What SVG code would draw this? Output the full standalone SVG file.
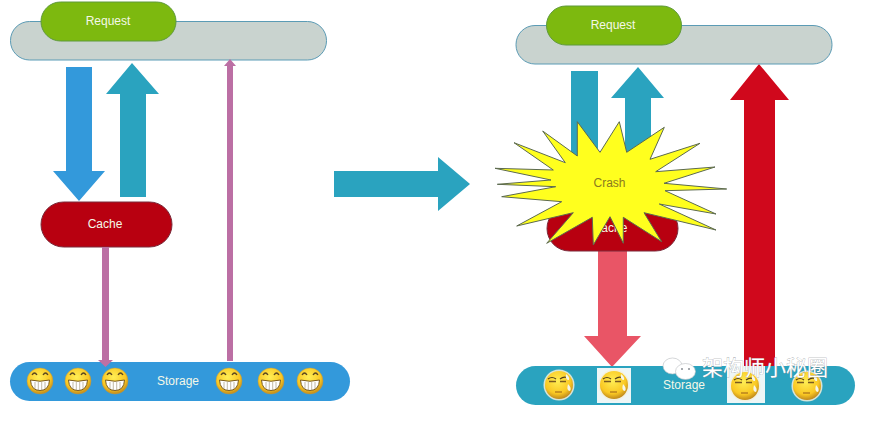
<svg xmlns="http://www.w3.org/2000/svg" xmlns:xlink="http://www.w3.org/1999/xlink" width="889" height="445" viewBox="0 0 889 445">
  <style>
    text { font-family: "Liberation Sans", Arial, sans-serif; font-size: 12px; text-anchor: middle; fill: #f4f8e8; }
    .bar { fill: #c9d3cf; stroke: #5b9bb5; stroke-width: 1; }
    .req { fill: #7db90f; stroke: #5f9a3a; stroke-width: 1; }
    .cache { fill: #b80010; stroke: #7a2a3a; stroke-width: 1; }
    .teal { fill: #2aa3bf; }
    .blue { fill: #3399db; }
    .pink { fill: #bc6fa4; }
    .coral { fill: #e95566; }
    .red { fill: #d0081c; }
    .mark { font-family: "Noto Sans CJK SC", "Liberation Sans", sans-serif; font-size: 21px; fill: #ffffff; stroke: #8a8f94; stroke-width: .5px; paint-order: stroke; text-anchor: start; }
  </style>
  <defs>
    <radialGradient id="face" cx="45%" cy="35%" r="65%">
      <stop offset="0" stop-color="#ffee55"/>
      <stop offset=".7" stop-color="#fac823"/>
      <stop offset="1" stop-color="#c08a1c"/>
    </radialGradient>
    <g id="grin">
      <circle r="13" fill="url(#face)" stroke="#c79a3a" stroke-width=".5"/>
      <path d="M-8 -6 Q-5.500 -10 -3 -6 M3 -6 Q5.500 -10 8 -6" fill="none" stroke="#5a4620" stroke-width="1.300"/>
      <path d="M-9.500 -1 Q0 1.500 9.500 -1 Q9 9.500 0 9.500 Q-9 9.500 -9.500 -1Z" fill="#ffffff" stroke="#7a5a20" stroke-width="1"/>
      <path d="M-5 1V8M-1.700 1V9M1.700 1V9M5 1V8" stroke="#a89c80" stroke-width=".7" fill="none"/>
    </g>
    <g id="sweat">
      <circle r="15.500" fill="#f3f0dc" opacity=".85"/>
      <circle r="14" fill="url(#face)"/>
      <path d="M-11 -6 Q-7 -9 -3 -6 M1 -6 Q5 -9 9 -7" fill="none" stroke="#54401c" stroke-width="1.200"/>
      <path d="M-10 -3.500H-3M1 -3.500H7" stroke="#7a5a20" stroke-width="1.400"/>
      <path d="M-4 7H3" stroke="#a8701c" stroke-width="1.200"/>
      <path d="M9 -1 Q13 3 11 6 Q7 6 9 -1Z M7 -11 Q11 -8 10 -5 Q6 -5 7 -11Z" fill="#f5f6ea"/>
    </g>
  </defs>

  <!-- connectors, left side above the storage bar are drawn after it -->
  <polygon id="transition" class="teal" points="334,171 438,171 438,157 470,184 438,211 438,197 334,197"/>

  <!-- right-side connectors -->
  <g id="connectors-right">
    <rect class="teal" x="571" y="71" width="27" height="90"/>
    <polygon class="teal" points="625,160 651,160 651,98 664,98 638,67 611,98 625,98"/>
    <polygon class="red" points="744,366 775,366 775,100 789,100 759,64 730,100 744,100"/>
    <polygon class="coral" points="598,245 627,245 627,336 641,336 612,367 584,336 598,336"/>
  </g>

  <!-- left column -->
  <g id="left-front">
    <rect class="bar" x="10.500" y="21.500" width="316" height="38.500" rx="19"/>
  </g>
  <g id="left-request">
    <rect class="req" x="41" y="2" width="135" height="39" rx="19.500"/>
    <text x="108" y="25">Request</text>
  </g>
  <g id="left-cache">
    <rect class="cache" x="41" y="202" width="131" height="45" rx="22.500"/>
    <text x="105" y="228">Cache</text>
  </g>
  <g id="left-storage">
    <rect class="blue" x="10" y="362" width="340" height="39" rx="19.500"/>
    <text x="178" y="385">Storage</text>
    <use xlink:href="#grin" href="#grin" x="40" y="381"/>
    <use xlink:href="#grin" href="#grin" x="78" y="381"/>
    <use xlink:href="#grin" href="#grin" x="115" y="381"/>
    <use xlink:href="#grin" href="#grin" x="229" y="381"/>
    <use xlink:href="#grin" href="#grin" x="271" y="381"/>
    <use xlink:href="#grin" href="#grin" x="310" y="381"/>
  </g>
  <g id="connectors-left">
    <polygon class="blue" points="66,67 92,67 92,171 105,171 79,201 53,171 66,171"/>
    <polygon class="teal" points="120,197 146,197 146,94 159,94 132,63 106,94 120,94"/>
    <polygon class="pink" points="227,361 227,66 224,66 230,59 236,66 233,66 233,361"/>
    <polygon class="pink" points="102,247 109,247 109,360 113,360 105.500,367 98,360 102,360"/>
  </g>

  <!-- right column -->
  <g id="right-front">
    <rect class="bar" x="516" y="25.500" width="316" height="38.500" rx="19"/>
  </g>
  <g id="right-request">
    <rect class="req" x="546.500" y="6" width="135" height="39" rx="19.500"/>
    <text x="613" y="29">Request</text>
  </g>
  <g id="right-cache">
    <rect class="cache" x="547" y="206" width="131" height="45" rx="22.500"/>
    <text x="610" y="232">Cache</text>
  </g>
  <g id="right-storage">
    <rect class="teal" x="516" y="366" width="339" height="39" rx="19.500"/>
    <text x="684" y="389">Storage</text>
    <use xlink:href="#sweat" href="#sweat" x="559" y="385"/>
    <rect x="597" y="368" width="34" height="35" fill="#eef6f6"/>
    <use xlink:href="#sweat" href="#sweat" x="614" y="385"/>
    <rect x="727" y="366" width="38" height="37" fill="#eef6f6"/>
    <use xlink:href="#sweat" href="#sweat" x="745" y="386"/>
    <use xlink:href="#sweat" href="#sweat" x="807" y="386"/>
  </g>

  <!-- burst over the right cache -->
  <g id="crash">
    <polygon fill="#ffff1e" stroke="#5c6a50" stroke-width="1" points="577.300,121.700 600,152.300 619.300,121.700 626.700,152.300 664.300,127.300 650,159.300 700,143.300 655.700,171.700 715,167 664,183.300 726.700,189 665,190.700 716,214 659.300,204 716,230 644,212.700 661.700,241.700 623.300,217.300 623.300,243.300 610,216.700 593.300,245 592.300,217.300 546.700,243.300 573.300,212.700 516.700,226 561.700,201.700 501.700,196.700 555.700,186.700 497.300,184.300 551,180 495,168.300 553.300,170 514,142.700 565.300,162.700 542.700,131 577.300,156"/>
    <text x="609.500" y="187" style="fill:#8a7a20">Crash</text>
  </g>

  <!-- account mark in the corner -->
  <g id="account-mark">
    <ellipse cx="672.500" cy="366" rx="9.500" ry="8" fill="#ffffff" stroke="#b8bcc0" stroke-width=".6"/>
    <ellipse cx="685.500" cy="371.500" rx="10" ry="8" fill="#ffffff" stroke="#b8bcc0" stroke-width=".6"/>
    <circle cx="682" cy="369" r="1" fill="#8a8f94"/>
    <circle cx="689" cy="369" r="1" fill="#8a8f94"/>
    <text class="mark" x="702" y="375">架构师小秘圈</text>
  </g>
</svg>
